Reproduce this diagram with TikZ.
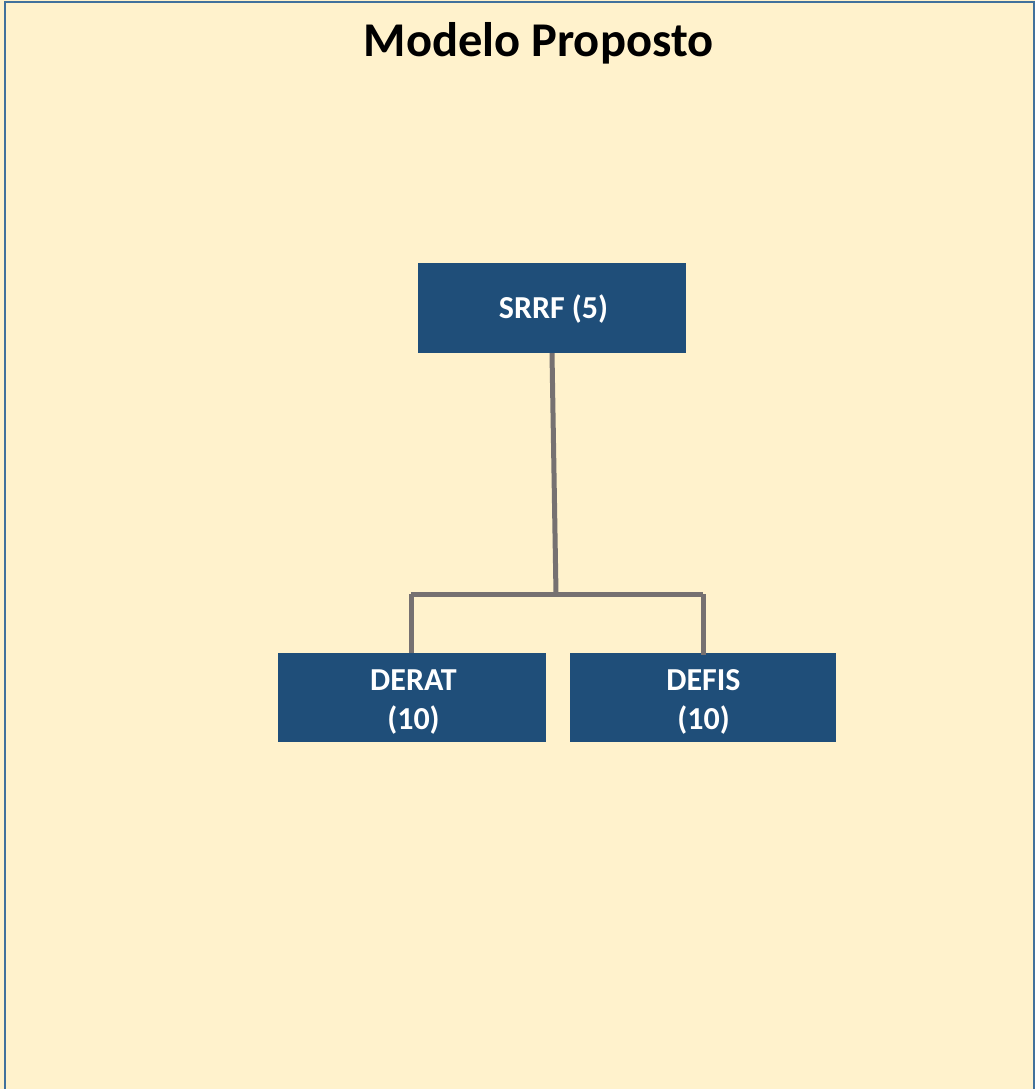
\documentclass[tikz,border=0pt]{standalone}
\usepackage{fontspec}
\setmainfont{Carlito}
\definecolor{bgcream}{HTML}{FFF2CC}
\definecolor{frameblue}{HTML}{41719C}
\definecolor{boxblue}{HTML}{1F4E79}
\definecolor{linegray}{HTML}{767171}
\begin{document}
\begin{tikzpicture}[x=1pt,y=-1pt,
  orgbox/.style={fill=boxblue,draw=none,inner sep=0pt},
  boxtext/.style={text=white,font=\fontsize{32}{38.5}\selectfont\bfseries,align=center,inner sep=0pt,anchor=base},
  link/.style={draw=linegray,line width=5pt}]
\useasboundingbox (0,0) rectangle (1035,1089);
\fill[bgcream] (0,0) rectangle (1035,1089);
\draw[frameblue,line width=2.5pt,fill=bgcream] (5.2,2.2) rectangle (1033.8,1100);
\node[font=\fontsize{48.5}{56}\selectfont\bfseries,anchor=base] (title) at (538.5,57) {Modelo Proposto};
\node[orgbox,minimum width=268pt,minimum height=90pt] (srrf) at (552,308) {};
\node[boxtext] (srrft) at (553.5,318) {SRRF (5)};
\node[orgbox,minimum width=268pt,minimum height=89pt] (derat) at (412,697.5) {};
\node[boxtext] (deratt) at (413.5,729) {DERAT\\(10)};
\node[orgbox,minimum width=266pt,minimum height=89pt] (defis) at (703,697.5) {};
\node[boxtext] (defist) at (703.5,729) {DEFIS\\(10)};
\coordinate (mid) at (556,594);
\coordinate (lft) at (411,594);
\coordinate (rgt) at (703,594);
\draw[link] (srrf.south) -- (mid);
\draw[link] (lft) -- (rgt);
\draw[link] (lft) -- (lft |- derat.north);
\draw[link] (rgt) -- ([yshift=-2pt]rgt |- defis.north);
\end{tikzpicture}
\end{document}
